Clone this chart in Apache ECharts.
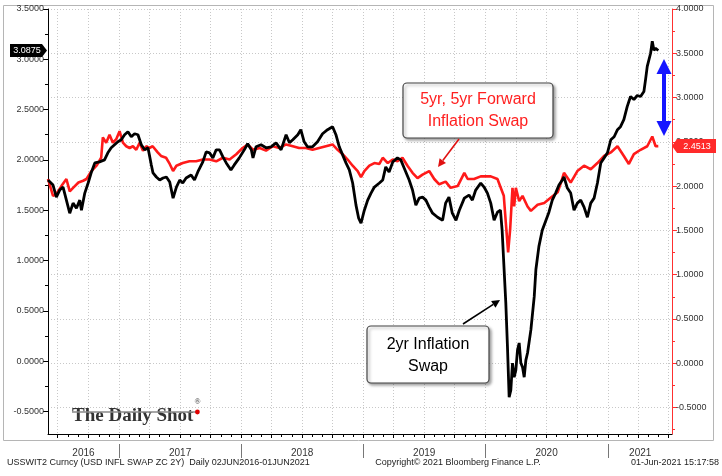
<!DOCTYPE html>
<html><head><meta charset="utf-8">
<script src="https://cdn.jsdelivr.net/npm/echarts@6/dist/echarts.min.js"></script>
<style>html,body{margin:0;padding:0;background:#fff}#c{width:722px;height:476px}</style>
</head><body><div id="c"></div><script>
// ---- data ----
const dates2y = ['2016-06-02','2016-06-17','2016-06-27','2016-07-07','2016-07-17','2016-07-27','2016-08-06','2016-08-16','2016-08-26','2016-09-05','2016-09-10','2016-09-20','2016-09-30','2016-10-10','2016-10-20','2016-11-03','2016-11-18','2016-11-28','2016-12-08','2016-12-18','2016-12-28',
'2017-01-07','2017-01-17','2017-01-27','2017-02-06','2017-02-16','2017-02-26','2017-03-08','2017-03-18','2017-03-28','2017-04-07','2017-04-12','2017-04-22','2017-05-02','2017-05-12','2017-05-22','2017-06-01','2017-06-11','2017-06-21','2017-07-01','2017-07-10','2017-07-20','2017-08-04','2017-08-14','2017-08-24','2017-09-08','2017-09-18','2017-09-28','2017-10-08','2017-10-18','2017-10-28','2017-11-07','2017-11-17','2017-12-01','2017-12-11','2017-12-26',
'2018-01-10','2018-01-20','2018-01-31','2018-02-05','2018-02-14','2018-03-01','2018-03-16','2018-03-31','2018-04-15','2018-04-30','2018-05-15','2018-05-25','2018-06-04','2018-06-19','2018-06-28','2018-07-08','2018-07-18','2018-08-02','2018-08-17','2018-09-01','2018-09-16','2018-10-01','2018-10-11','2018-10-21','2018-10-31','2018-11-10','2018-11-20','2018-11-30','2018-12-10','2018-12-18','2018-12-25',
'2019-01-04','2019-01-14','2019-01-24','2019-02-03','2019-02-18','2019-02-28','2019-03-09','2019-03-19','2019-03-30','2019-04-13','2019-04-23','2019-05-03','2019-05-18','2019-05-28','2019-06-07','2019-06-17','2019-06-27','2019-07-07','2019-07-17','2019-07-27','2019-08-11','2019-08-26','2019-09-04','2019-09-14','2019-09-24','2019-10-05','2019-10-15','2019-10-30','2019-11-13','2019-11-23','2019-12-03','2019-12-18','2019-12-28',
'2020-01-07','2020-01-17','2020-01-27','2020-02-06','2020-02-15','2020-02-20','2020-02-25','2020-03-02','2020-03-07','2020-03-12','2020-03-17','2020-03-22','2020-03-27','2020-04-01','2020-04-06','2020-04-11','2020-04-16','2020-04-21','2020-04-26','2020-05-01','2020-05-06','2020-05-16','2020-05-26','2020-05-31','2020-06-09','2020-06-19','2020-06-29','2020-07-09','2020-07-19','2020-07-29','2020-08-08','2020-08-18','2020-08-23','2020-09-02','2020-09-12','2020-09-22','2020-10-02','2020-10-12','2020-10-22','2020-11-01','2020-11-11','2020-11-21','2020-12-01','2020-12-11','2020-12-21','2020-12-31',
'2021-01-10','2021-01-20','2021-01-30','2021-02-08','2021-02-18','2021-02-28','2021-03-10','2021-03-20','2021-03-30','2021-04-09','2021-04-19','2021-04-24','2021-04-29','2021-05-09','2021-05-14','2021-05-19','2021-05-24','2021-06-01'];
const swap2y = [1.80,1.75,1.63,1.70,1.73,1.60,1.47,1.57,1.52,1.60,1.50,1.67,1.77,1.88,1.97,1.98,2.00,2.07,2.12,2.15,2.18,
2.20,2.25,2.28,2.23,2.26,2.25,2.15,2.10,2.12,1.95,1.87,1.83,1.80,1.82,1.83,1.78,1.62,1.73,1.80,1.77,1.82,1.85,1.80,1.88,1.98,2.08,2.07,2.02,2.10,2.10,2.03,1.97,1.90,1.95,2.02,
2.10,2.16,2.10,2.02,2.13,2.15,2.12,2.13,2.17,2.10,2.25,2.17,2.20,2.25,2.30,2.18,2.13,2.13,2.18,2.26,2.30,2.33,2.25,2.13,2.05,1.97,1.90,1.77,1.55,1.42,1.37,
1.50,1.60,1.67,1.73,1.77,1.80,1.93,1.88,1.98,2.02,2.00,1.92,1.80,1.70,1.55,1.62,1.63,1.60,1.53,1.47,1.43,1.40,1.57,1.63,1.47,1.40,1.50,1.62,1.65,1.60,1.70,1.77,1.73,
1.67,1.57,1.40,1.48,1.50,1.30,0.97,0.58,0.14,-0.36,-0.29,-0.02,-0.16,-0.09,0.11,0.18,-0.02,-0.06,-0.16,0.01,0.08,0.31,0.64,0.91,1.14,1.30,1.39,1.48,1.60,1.67,1.75,1.80,1.83,1.72,1.67,1.50,1.57,1.60,1.53,1.43,1.57,1.62,1.77,1.97,2.02,2.07,
2.20,2.23,2.30,2.33,2.40,2.53,2.63,2.60,2.64,2.63,2.68,2.80,2.93,3.06,3.18,3.09,3.11,3.0875];

const dates5y5y = ['2016-06-02','2016-06-17','2016-06-27','2016-07-12','2016-07-27','2016-08-06','2016-08-16','2016-09-01','2016-09-15','2016-09-25','2016-10-10','2016-10-25','2016-11-08','2016-11-13','2016-11-23','2016-12-03','2016-12-13','2016-12-23',
'2017-01-02','2017-01-12','2017-01-22','2017-02-01','2017-02-11','2017-02-21','2017-03-03','2017-03-13','2017-03-23','2017-04-01','2017-04-11','2017-04-26','2017-05-06','2017-05-21','2017-06-01','2017-06-11','2017-06-21','2017-07-10','2017-07-30','2017-08-19','2017-09-08','2017-09-28','2017-10-18','2017-11-07','2017-11-27','2017-12-17',
'2018-01-05','2018-01-20','2018-02-05','2018-02-25','2018-03-16','2018-04-05','2018-04-25','2018-05-15','2018-06-04','2018-06-23','2018-07-13','2018-08-02','2018-08-22','2018-09-11','2018-10-01','2018-10-16','2018-10-31','2018-11-15','2018-11-30','2018-12-15','2018-12-25',
'2019-01-04','2019-01-19','2019-02-03','2019-02-18','2019-02-28','2019-03-15','2019-03-30','2019-04-13','2019-04-28','2019-05-13','2019-05-28','2019-06-12','2019-06-27','2019-07-17','2019-08-01','2019-08-16','2019-09-04','2019-09-19','2019-10-10','2019-10-30','2019-11-09','2019-11-28','2019-12-18',
'2020-01-07','2020-01-17','2020-02-06','2020-02-11','2020-02-25','2020-03-02','2020-03-09','2020-03-15','2020-03-22','2020-03-27','2020-04-01','2020-04-11','2020-04-21','2020-05-06','2020-05-16','2020-06-05','2020-06-25','2020-07-15','2020-08-04','2020-08-14','2020-08-23','2020-09-12','2020-10-02','2020-10-22','2020-11-11','2020-12-01','2020-12-21',
'2021-01-10','2021-01-30','2021-02-18','2021-03-05','2021-03-20','2021-04-09','2021-04-29','2021-05-14','2021-05-24','2021-06-01'];
const fwd5y5y = [2.08,1.89,1.91,2.00,2.08,1.94,1.98,2.04,2.06,2.08,2.17,2.23,2.32,2.55,2.49,2.58,2.49,2.53,
2.62,2.49,2.45,2.43,2.45,2.41,2.49,2.40,2.45,2.43,2.45,2.38,2.34,2.32,2.25,2.17,2.23,2.26,2.28,2.28,2.30,2.30,2.28,2.32,2.30,2.36,
2.43,2.47,2.41,2.43,2.40,2.45,2.43,2.47,2.45,2.43,2.43,2.41,2.43,2.45,2.47,2.41,2.36,2.30,2.23,2.17,2.10,
2.17,2.23,2.26,2.25,2.32,2.26,2.30,2.28,2.32,2.23,2.15,2.09,2.13,2.17,2.08,2.02,2.05,1.98,2.00,2.15,2.08,2.08,2.11,
2.11,2.11,2.08,2.06,1.89,1.59,1.25,1.51,1.98,1.77,1.98,1.83,1.89,1.77,1.72,1.79,1.81,1.87,1.93,2.04,2.15,2.04,2.17,2.23,2.19,2.26,2.34,
2.38,2.45,2.34,2.25,2.36,2.41,2.45,2.56,2.45,2.4513];

const leftTickLabels = [-0.5,0,0.5,1,1.5,2,2.5,3,3.5];
const rightTickLabels = [-0.5,0,0.5,1,1.5,2,2.5,3,3.5,4];
const yearLabels = ['2016','2017','2018','2019','2020','2021'];
const yearLabelDates = ['2016-09-16','2017-07-02','2018-07-02','2019-07-02','2020-07-02','2021-04-08'];
const yearBreaks = ['2017-01-01','2018-01-01','2019-01-01','2020-01-01','2021-01-01'];
const last2y = 3.0875, last5y5y = 2.4513;

// ---- style helpers ----
const T = s => Date.parse(s + 'T00:00:00Z');
const X_MIN = '2016-06-02', X_MAX = '2021-07-12';
const monthStarts = [], quarterStarts = [];
for (let y = 2016; y <= 2021; y++) for (let m = 1; m <= 12; m++) {
  const s = y + '-' + String(m).padStart(2,'0') + '-01';
  if (s > X_MIN && s < X_MAX) { monthStarts.push(T(s)); if ((m - 1) % 3 === 0) quarterStarts.push(T(s)); }
}
const halfSteps = (a, b) => { const r = []; for (let v = a; v <= b + 1e-9; v += 0.25) r.push(+v.toFixed(2)); return r; };
const FONT = 'Liberation Sans';
const fmt4 = v => Number(v).toFixed(4);
const yearLabelTs = yearLabelDates.map(T);

const chart = echarts.init(document.getElementById('c'), null, {renderer: 'canvas'});
const xBase = {type: 'value', min: T(X_MIN), max: T(X_MAX), position: 'bottom', scale: true};
chart.setOption({
  animation: false,
  backgroundColor: '#fff',
  grid: {left: 48, right: 50, top: 9, bottom: 42, containLabel: false},
  xAxis: [
    Object.assign({}, xBase, {
      axisLine: {show: true, onZero: false, lineStyle: {color: '#000', width: 1}},
      axisTick: {show: true, customValues: quarterStarts, length: 4, lineStyle: {color: '#000'}},
      axisLabel: {show: false},
      splitLine: {show: true, lineStyle: {color: '#c8c8c8', type: [1, 2], width: 1}} }),
    Object.assign({}, xBase, { offset: 10,
      axisLine: {show: false, onZero: false},
      axisTick: {show: true, customValues: yearBreaks.map(T), length: 14, lineStyle: {color: '#777'}},
      axisLabel: {show: true, customValues: yearLabelTs, margin: 4, fontSize: 10, fontFamily: FONT, color: '#333',
        formatter: v => yearLabels[yearLabelTs.indexOf(v)] || String(new Date(v).getUTCFullYear())},
      splitLine: {show: false} }),
    Object.assign({}, xBase, { offset: 0,
      axisLine: {show: false, onZero: false},
      axisTick: {show: true, customValues: monthStarts, length: 3, lineStyle: {color: '#000'}},
      axisLabel: {show: false}, splitLine: {show: false} })
  ],
  yAxis: [
    { type: 'value', position: 'left', min: -0.725, max: 3.5,
      axisLine: {show: true, onZero: false, lineStyle: {color: '#000'}},
      axisTick: {show: true, customValues: leftTickLabels, length: 5, lineStyle: {color: '#000'}},
      axisLabel: {show: true, customValues: leftTickLabels, formatter: fmt4, fontSize: 9, fontFamily: FONT, color: '#333', margin: 4},
      splitLine: {show: false} },
    { type: 'value', position: 'right', min: -0.8, max: 4.0,
      axisLine: {show: true, onZero: false, lineStyle: {color: '#ff3030'}},
      axisTick: {show: true, customValues: rightTickLabels, length: 5, lineStyle: {color: '#ff3030'}},
      axisLabel: {show: true, customValues: rightTickLabels, formatter: fmt4, fontSize: 9, fontFamily: FONT, color: '#333', margin: 4},
      splitLine: {show: true, lineStyle: {color: '#c8c8c8', type: [1, 2], width: 1}} },
    { type: 'value', position: 'right', min: -0.8, max: 4.0, offset: 0,
      axisLine: {show: false},
      axisTick: {show: true, customValues: halfSteps(-0.75, 3.75), length: 3, lineStyle: {color: '#ff3030'}},
      axisLabel: {show: false}, splitLine: {show: false} },
    { type: 'value', position: 'left', min: -0.725, max: 3.5, offset: 0,
      axisLine: {show: false},
      axisTick: {show: true, customValues: halfSteps(-0.5, 3.5), length: 3, lineStyle: {color: '#000'}},
      axisLabel: {show: false}, splitLine: {show: false} }
  ],
  series: [
    { name: '5yr, 5yr Forward Inflation Swap', type: 'line', xAxisIndex: 0, yAxisIndex: 1,
      data: dates5y5y.map((d, i) => [T(d), fwd5y5y[i]]),
      showSymbol: false, lineStyle: {color: '#ff1a1a', width: 2.6}, itemStyle: {color: '#ff1a1a'}, z: 2 },
    { name: '2yr Inflation Swap', type: 'line', xAxisIndex: 0, yAxisIndex: 0,
      data: dates2y.map((d, i) => [T(d), swap2y[i]]),
      showSymbol: false, lineStyle: {color: '#000', width: 2.8}, itemStyle: {color: '#000'}, z: 3 }
  ]
});

// ---- annotations ----
function arrow(x1, y1, x2, y2, color, w, head, hw) {
  const a = Math.atan2(y2 - y1, x2 - x1);
  const bx = x2 - head * Math.cos(a), by = y2 - head * Math.sin(a);
  const px = -Math.sin(a) * hw, py = Math.cos(a) * hw;
  return [
    {type: 'line', shape: {x1, y1, x2: bx, y2: by}, style: {stroke: color, lineWidth: w}, silent: true, z: 50},
    {type: 'polygon', shape: {points: [[x2, y2], [bx + px, by + py], [bx - px, by - py]]}, style: {fill: color}, silent: true, z: 50}
  ];
}
const LOGO_FONT = 'bold 19px "Liberation Serif"';
const ctx = document.createElement('canvas').getContext('2d');
ctx.font = LOGO_FONT;
const logoW = ctx.measureText('The Daily Shot').width;
const logoX = 72;

const yL = chart.convertToPixel({yAxisIndex: 0}, last2y);
const yR = chart.convertToPixel({yAxisIndex: 1}, last5y5y);
const g = [];
g.push({type: 'rect', shape: {x: 3.5, y: 5.5, width: 710, height: 435}, style: {fill: 'none', stroke: '#b5b5b5', lineWidth: 1}, silent: true, z: 0});
g.push({type: 'polygon', shape: {points: [[10, yL - 6.5], [42, yL - 6.5], [47, yL], [42, yL + 6.5], [10, yL + 6.5]]}, style: {fill: '#000'}, z: 60});
g.push({type: 'text', x: 27, y: yL, style: {text: fmt4(last2y), fill: '#fff', font: '9px ' + FONT, align: 'center', verticalAlign: 'middle'}, z: 61});
g.push({type: 'polygon', shape: {points: [[672, yR], [677, yR - 7], [716, yR - 7], [716, yR + 7], [677, yR + 7]]}, style: {fill: '#ff2a2a'}, z: 60});
g.push({type: 'text', x: 697, y: yR, style: {text: fmt4(last5y5y), fill: '#fff', font: '9px ' + FONT, align: 'center', verticalAlign: 'middle'}, z: 61});
g.push({type: 'rect', shape: {x: 403, y: 83, width: 150, height: 55, r: 4}, style: {fill: '#fff', stroke: '#444', lineWidth: 1.2, shadowBlur: 3, shadowOffsetX: 2, shadowOffsetY: 2, shadowColor: 'rgba(0,0,0,0.35)'}, z: 40});
g.push({type: 'text', x: 478, y: 100, style: {text: '5yr, 5yr Forward', fill: '#ff2020', font: '16px ' + FONT, align: 'center', verticalAlign: 'middle'}, z: 41});
g.push({type: 'text', x: 478, y: 122, style: {text: 'Inflation Swap', fill: '#ff2020', font: '16px ' + FONT, align: 'center', verticalAlign: 'middle'}, z: 41});
g.push(...arrow(459, 139, 438, 167, '#e01010', 1.6, 8, 4));
g.push({type: 'rect', shape: {x: 367, y: 326, width: 122, height: 57, r: 4}, style: {fill: '#fff', stroke: '#444', lineWidth: 1.2, shadowBlur: 3, shadowOffsetX: 2, shadowOffsetY: 2, shadowColor: 'rgba(0,0,0,0.35)'}, z: 40});
g.push({type: 'text', x: 428, y: 345, style: {text: '2yr Inflation', fill: '#000', font: '16px ' + FONT, align: 'center', verticalAlign: 'middle'}, z: 41});
g.push({type: 'text', x: 428, y: 367, style: {text: 'Swap', fill: '#000', font: '16px ' + FONT, align: 'center', verticalAlign: 'middle'}, z: 41});
g.push(...arrow(463, 324, 500, 300, '#000', 1.6, 8, 4));
g.push({type: 'line', shape: {x1: 664, y1: 70, x2: 664, y2: 125}, style: {stroke: '#1515ff', lineWidth: 4}, z: 50});
g.push({type: 'polygon', shape: {points: [[664, 59], [656.5, 74], [671.5, 74]]}, style: {fill: '#1515ff'}, z: 50});
g.push({type: 'polygon', shape: {points: [[664, 136], [656.5, 121], [671.5, 121]]}, style: {fill: '#1515ff'}, z: 50});
// logo
g.push({type: 'text', x: logoX, y: 407, style: {text: 'The Daily Shot', fill: '#333', font: LOGO_FONT, align: 'left', verticalAlign: 'alphabetic'}, z: 45});
g.push({type: 'text', x: logoX + logoW + 1, y: 398, style: {text: '®', fill: '#333', font: '8px "Liberation Serif"', align: 'left', verticalAlign: 'alphabetic'}, z: 45});
g.push({type: 'line', shape: {x1: logoX, y1: 412, x2: logoX + logoW + 3, y2: 412}, style: {stroke: '#8a8a8a', lineWidth: 1.6}, z: 45});
g.push({type: 'circle', shape: {cx: logoX + logoW + 4, cy: 412, r: 2.4}, style: {fill: '#e00000'}, z: 46});
// footer
g.push({type: 'text', x: 7, y: 463, style: {text: 'USSWIT2 Curncy (USD INFL SWAP ZC 2Y)  Daily 02JUN2016-01JUN2021', fill: '#222', font: '9px ' + FONT, align: 'left', verticalAlign: 'middle'}, z: 45});
g.push({type: 'text', x: 458, y: 463, style: {text: 'Copyright\u00a9 2021 Bloomberg Finance L.P.', fill: '#222', font: '9px ' + FONT, align: 'center', verticalAlign: 'middle'}, z: 45});
g.push({type: 'text', x: 719, y: 463, style: {text: '01-Jun-2021 15:17:58', fill: '#222', font: '9px ' + FONT, align: 'right', verticalAlign: 'middle'}, z: 45});
chart.setOption({graphic: g});
</script></body></html>
